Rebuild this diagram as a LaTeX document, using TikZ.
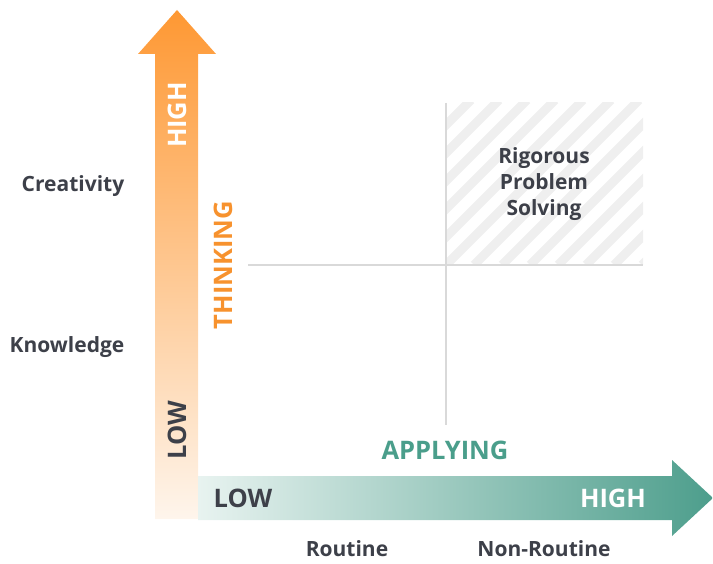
\documentclass[tikz,border=0pt]{standalone}
\usepackage{fontspec}
\setmainfont{Open Sans}
\usetikzlibrary{positioning}
\definecolor{ink}{HTML}{3D4049}
\definecolor{thinkorange}{HTML}{F7922E}
\definecolor{arroworange}{HTML}{FE9833}
\definecolor{paleorange}{HTML}{FEF5EC}
\definecolor{applyteal}{HTML}{4A9E8B}
\definecolor{arrowteal}{HTML}{4D9E8C}
\definecolor{paleteal}{HTML}{E8F3F0}
\definecolor{gridgray}{HTML}{D9D9D9}
\definecolor{hatchgray}{HTML}{EFEFEF}
\tikzset{lbl/.style = {font=\bfseries\fontsize{21}{26}\selectfont, text=ink, align=center, inner sep=1}}
\tikzset{axislbl/.style = {font=\bfseries\fontsize{25.5}{30}\selectfont}}
\tikzset{gridline/.style = {draw=gridgray, line width=2}}

\begin{document}
\begin{tikzpicture}[x=1pt, y=-1pt]
      \useasboundingbox (0,0) rectangle (713,564);

      % thinking arrow
      \shade [top color=arroworange, bottom color=paleorange]
        (155,519) -- (155,54) -- (138,54) -- (177,10) -- (216,54)
        -- (198,54) -- (198,519) -- cycle;
      % applying arrow
      \shade [left color=paleteal, right color=arrowteal]
        (198,476) -- (672,476) -- (672,460) -- (713,498) -- (672,536)
        -- (672,520) -- (198,520) -- cycle;

      % hatched quadrant
      \begin{scope}
        \clip (446,103) rectangle (643,265);
        \foreach \x in {250,278,...,670}
          \draw [hatchgray, line width=9] (\x,265) -- ++(165,-165);
      \end{scope}

      \coordinate (hl) at (248,265);
      \coordinate (hr) at (643,265);
      \coordinate (vt) at (446,103);
      \coordinate (vb) at (446,425);
      \draw [gridline] (hl) -- (hr);
      \draw [gridline] (vt) -- (vb);

      \node (creat) at (73,186) [lbl] {Creativity};
      \node (know) at (67,347) [lbl] {Knowledge};
      \node (vhigh) at (177,115) [axislbl, text=white, rotate=90] {HIGH};
      \node (vlow) at (177,430) [axislbl, text=ink, rotate=90] {LOW};
      \node (think) at (223,265) [axislbl, text=thinkorange, rotate=90] {THINKING};
      \node (apply) at (445,450) [axislbl, text=applyteal] {APPLYING};
      \node (hlow) at (243,498) [axislbl, text=ink] {LOW};
      \node (hhigh) at (613,498) [axislbl, text=white] {HIGH};
      \node (routine) at (347,549) [lbl] {Routine};
      \node (nonroutine) at (544,549) [lbl] {Non-Routine};
      \node (rps) at (544,184) [lbl] {Rigorous\\Problem\\Solving};
    \end{tikzpicture}
\end{document}
